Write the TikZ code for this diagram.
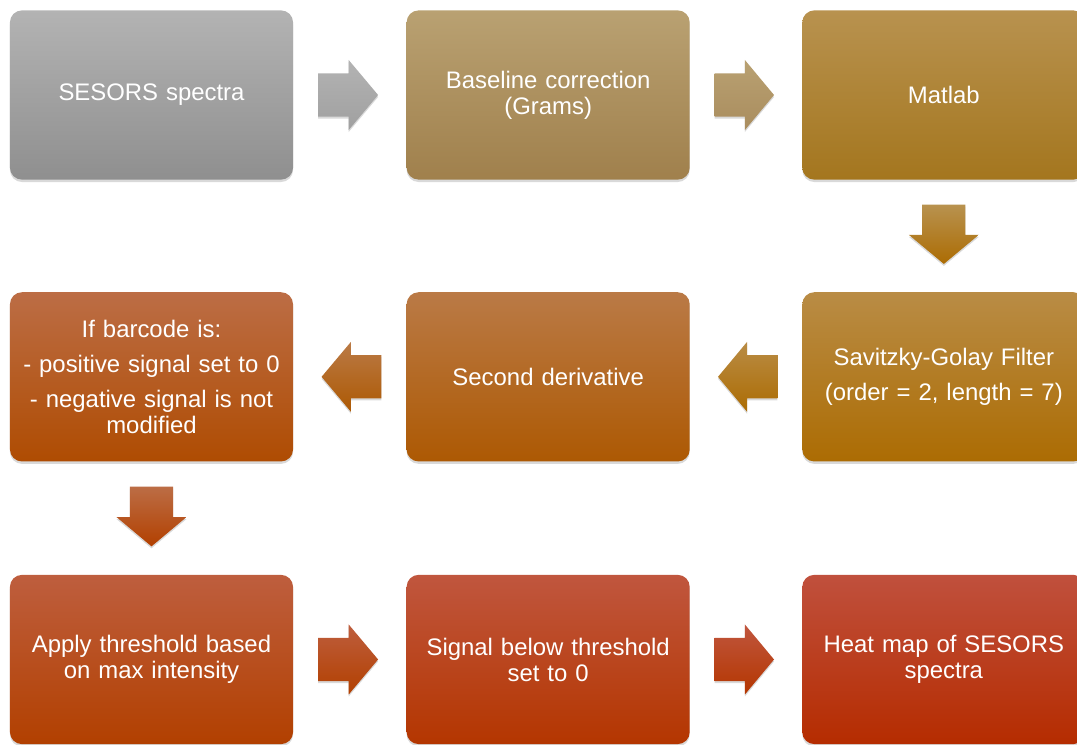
\documentclass[tikz,border=0pt]{standalone}
\usepackage{fontspec}
\setmainfont{Liberation Sans}
\usetikzlibrary{positioning,calc,shadows}

% box colours, light (top) and dark (bottom)
\definecolor{sesorsT}{HTML}{B3B3B3}\definecolor{sesorsB}{HTML}{8F8F8F}
\definecolor{baseT}{HTML}{B9A172}\definecolor{baseB}{HTML}{A0804C}
\definecolor{matT}{HTML}{B8924F}\definecolor{matB}{HTML}{A4761E}
\definecolor{sgT}{HTML}{B98C45}\definecolor{sgB}{HTML}{AC6C03}
\definecolor{derT}{HTML}{BA7A46}\definecolor{derB}{HTML}{AD5903}
\definecolor{barT}{HTML}{BC6D45}\definecolor{barB}{HTML}{AF4C02}
\definecolor{thrT}{HTML}{BE5E3E}\definecolor{thrB}{HTML}{B24000}
\definecolor{belT}{HTML}{C0563E}\definecolor{belB}{HTML}{B43600}
\definecolor{heatT}{HTML}{C0503D}\definecolor{heatB}{HTML}{B52C00}

\tikzset{
  stepbox/.style={rectangle, rounded corners=0.3cm, minimum width=7.075cm,
    minimum height=4.23cm, text width=6.8cm, align=center, text=white,
    font=\fontsize{17}{18.5}\selectfont,
    drop shadow={opacity=0.3, shadow xshift=0pt, shadow yshift=-0.06cm}},
  blockarrow/.style={drop shadow={opacity=0.3, shadow xshift=0pt, shadow yshift=-0.05cm}},
}

% fat arrow in the gap between two anchors: from, to, top colour, bottom colour
\newcommand{\flowarrow}[4]{%
  \coordinate (fa-s) at ($(#1)!0.22!(#2)$);
  \coordinate (fa-h) at ($(#1)!0.49!(#2)$);
  \coordinate (fa-t) at ($(#1)!0.75!(#2)$);
  \path[blockarrow, top color=#3, bottom color=#4]
    ($(fa-s)!0.54cm!90:(fa-t)$) -- ($(fa-h)!0.54cm!90:(fa-t)$)
    -- ($(fa-h)!0.875cm!90:(fa-t)$) -- (fa-t)
    -- ($(fa-h)!0.875cm!-90:(fa-t)$) -- ($(fa-h)!0.54cm!-90:(fa-t)$)
    -- ($(fa-s)!0.54cm!-90:(fa-t)$) -- cycle;}

\begin{document}
\begin{tikzpicture}[x=0.025cm, y=-0.025cm]
  \path[use as bounding box] (0,0) rectangle (1077,744);
  \clip (0,0) rectangle (1077,744);

  \node[stepbox, top color=sesorsT, bottom color=sesorsB] (sesors) at (151.5,95) {SESORS spectra};
  \node[stepbox, top color=baseT, bottom color=baseB] (baseline) [right=2.825cm of sesors] {Baseline correction\\(Grams)};
  \node[stepbox, top color=matT, bottom color=matB] (matlab) [right=2.8cm of baseline] {Matlab};
  \node[stepbox, top color=sgT, bottom color=sgB] (savgol) [below=2.8cm of matlab] {Savitzky-Golay Filter\\[6.4pt](order = 2, length = 7)};
  \node[stepbox, top color=derT, bottom color=derB] (deriv) [left=2.8cm of savgol] {Second derivative};
  \node[stepbox, top color=barT, bottom color=barB] (barcode) [left=2.825cm of deriv]
    {If barcode is:\\[6.4pt]- positive signal set to 0\\[6.4pt]- negative signal is not\\modified};
  \node[stepbox, top color=thrT, bottom color=thrB] (thresh) [below=2.82cm of barcode] {Apply threshold based\\on max intensity};
  \node[stepbox, top color=belT, bottom color=belB] (below) [right=2.825cm of thresh] {Signal below threshold\\set to 0};
  \node[stepbox, top color=heatT, bottom color=heatB] (heatmap) [right=2.8cm of below] {Heat map of SESORS\\spectra};

  \flowarrow{sesors.east}{baseline.west}{sesorsT}{sesorsB!85!white}
  \flowarrow{baseline.east}{matlab.west}{baseT}{baseB!90!white}
  \flowarrow{matlab.south}{savgol.north}{matT}{sgB}
  \flowarrow{savgol.west}{deriv.east}{sgT}{sgB}
  \flowarrow{deriv.west}{barcode.east}{derT}{derB}
  \flowarrow{barcode.south}{thresh.north}{barT}{thrB}
  \flowarrow{thresh.east}{below.west}{thrT}{thrB}
  \flowarrow{below.east}{heatmap.west}{belT}{belB}
\end{tikzpicture}
\end{document}
